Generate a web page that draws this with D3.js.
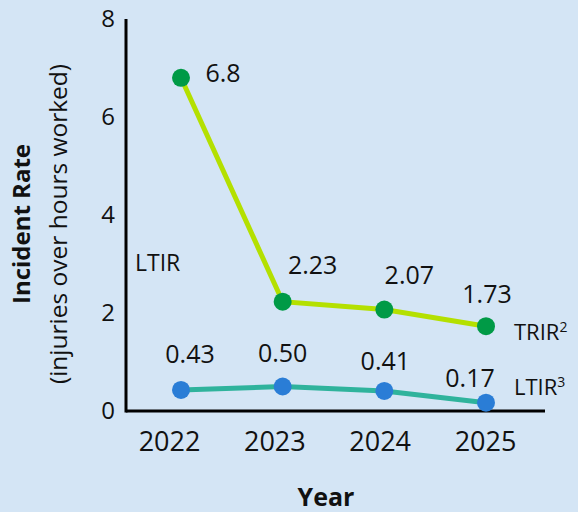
<!DOCTYPE html>
<html>
<head>
<meta charset="utf-8">
<script src="https://cdn.jsdelivr.net/npm/d3@7"></script>
<style>
  body { margin: 0; background: #d4e5f5; }
  svg { display: block; font-family: "Open Sans", sans-serif; }
</style>
</head>
<body>
<svg></svg>
<script>
// chart data
let years = ["2022", "2023", "2024", "2025"]
let trir = [6.8, 2.23, 2.07, 1.73]
let ltir = [0.43, 0.50, 0.41, 0.17]
let trirLabels = ["6.8", "2.23", "2.07", "1.73"]
let ltirLabels = ["0.43", "0.50", "0.41", "0.17"]
let yTicks = [0, 2, 4, 6, 8]

let width = 578
let height = 512

let svg = d3.select("svg")
    .attr("width", width)
    .attr("height", height)

svg.append("rect")
    .attr("width", width)
    .attr("height", height)
    .attr("fill", "#d4e5f5")

// scales
let xScale = d3.scalePoint()
    .domain(years)
    .range([181, 486])

let xLabelScale = d3.scalePoint()
    .domain(years)
    .range([169, 485])

let yScale = d3.scaleLinear()
    .domain([0, 8])
    .range([411, 19])

// y axis
let yAxis = d3.axisLeft(yScale)
    .tickValues(yTicks)
    .tickSize(0)
    .tickPadding(11)

let gy = svg.append("g")
    .attr("transform", "translate(126,0)")
    .call(yAxis)
gy.select(".domain").remove()
gy.selectAll("text")
    .attr("font-size", 24)
    .attr("fill", "#111")
    .attr("font-family", "Open Sans, sans-serif")

svg.append("line")
    .attr("x1", 126).attr("x2", 126)
    .attr("y1", yScale(8)).attr("y2", yScale(0) + 1.5)
    .attr("stroke", "#000")
    .attr("stroke-width", 3)

svg.append("line")
    .attr("x1", 126).attr("x2", 545)
    .attr("y1", yScale(0)).attr("y2", yScale(0))
    .attr("stroke", "#000")
    .attr("stroke-width", 3)

// x axis labels
let xAxis = d3.axisBottom(xLabelScale)
    .tickSize(0)
    .tickPadding(21)
let gx = svg.append("g")
    .attr("transform", "translate(0," + yScale(0) + ")")
    .call(xAxis)
gx.select(".domain").remove()
gx.selectAll("text")
    .attr("font-size", 27)
    .attr("fill", "#111")
    .attr("font-family", "Open Sans, sans-serif")

// axis titles
svg.append("text")
    .attr("x", 326).attr("y", 506)
    .attr("text-anchor", "middle")
    .attr("font-size", 25)
    .attr("font-weight", "bold")
    .attr("fill", "#111")
    .text("Year")

svg.append("text")
    .attr("transform", "translate(30,224) rotate(-90)")
    .attr("text-anchor", "middle")
    .attr("font-size", 24)
    .attr("font-weight", "bold")
    .attr("fill", "#111")
    .text("Incident Rate")

svg.append("text")
    .attr("transform", "translate(67,224) rotate(-90)")
    .attr("text-anchor", "middle")
    .attr("font-size", 24.5)
    .attr("fill", "#111")
    .text("(injuries over hours worked)")

// lines
let drawSeries = (values, lineColor, dotColor) => {
    let line = d3.line()
        .x((d, i) => xScale(years[i]))
        .y(d => yScale(d))
    svg.append("path")
        .datum(values)
        .attr("d", line)
        .attr("fill", "none")
        .attr("stroke", lineColor)
        .attr("stroke-width", 5)
    svg.selectAll(null)
        .data(values)
        .enter()
        .append("circle")
        .attr("cx", (d, i) => xScale(years[i]))
        .attr("cy", d => yScale(d))
        .attr("r", 9)
        .attr("fill", dotColor)
}

drawSeries(trir, "#b4e000", "#009a46")
drawSeries(ltir, "#2fb39c", "#2a7dd6")

// value labels (label offsets relative to the point)
let trirOffsets = [[42, 4], [30, -28], [25, -26], [1, -23]]
let ltirOffsets = [[9, -27], [0, -25], [1, -21], [-16, -16]]

let addLabels = (values, labels, offsets) => {
    svg.selectAll(null)
        .data(values)
        .enter()
        .append("text")
        .attr("x", (d, i) => xScale(years[i]) + offsets[i][0])
        .attr("y", (d, i) => yScale(d) + offsets[i][1])
        .attr("text-anchor", "middle")
        .attr("font-size", 25)
        .attr("fill", "#111")
        .text((d, i) => labels[i])
}
addLabels(trir, trirLabels, trirOffsets)
addLabels(ltir, ltirLabels, ltirOffsets)

// series names
let nameTrir = svg.append("text")
    .attr("x", 514).attr("y", 340)
    .attr("font-size", 22)
    .attr("fill", "#111")
nameTrir.append("tspan").text("TRIR")
nameTrir.append("tspan").attr("font-size", 14).attr("dy", -8).text("2")

let nameLtir = svg.append("text")
    .attr("x", 514).attr("y", 395)
    .attr("font-size", 22)
    .attr("fill", "#111")
nameLtir.append("tspan").text("LTIR")
nameLtir.append("tspan").attr("font-size", 14).attr("dy", -8).text("3")

svg.append("text")
    .attr("x", 135).attr("y", 271)
    .attr("font-size", 23)
    .attr("fill", "#111")
    .text("LTIR")
</script>
</body>
</html>
